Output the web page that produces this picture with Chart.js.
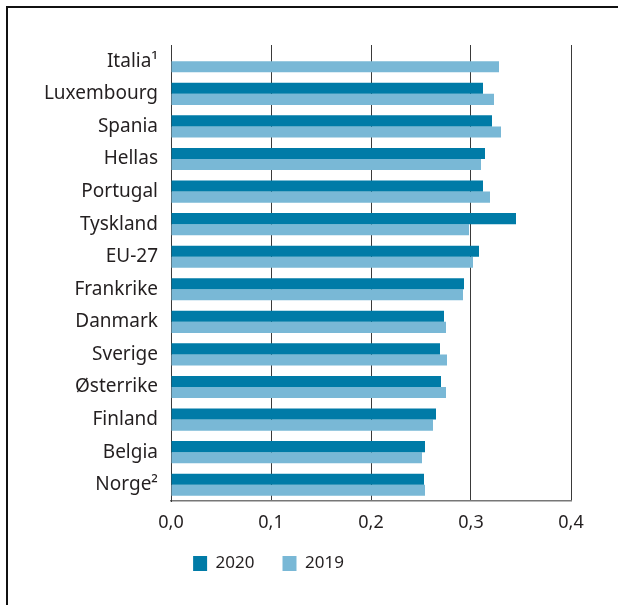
<!DOCTYPE html>
<html>
<head>
<meta charset="utf-8">
<script src="https://cdn.jsdelivr.net/npm/chart.js@4/dist/chart.umd.min.js"></script>
<style>
  html, body { margin: 0; padding: 0; background: #fff; }
  .frame { position: relative; width: 618px; height: 605px; overflow: hidden; }
  .frame-border { position: absolute; left: 6px; top: 6px; right: -4px; bottom: -4px; border-top: 2px solid #111; border-left: 2px solid #111; pointer-events: none; }
  .chart-box { position: absolute; left: 0; top: 0; width: 618px; height: 605px; }
</style>
</head>
<body>
<div class="frame">
  <div class="chart-box"><canvas id="chart"></canvas></div>
  <div class="frame-border"></div>
</div>
<script>
const countries = ['Italia¹', 'Luxembourg', 'Spania', 'Hellas', 'Portugal', 'Tyskland', 'EU-27', 'Frankrike', 'Danmark', 'Sverige', 'Østerrike', 'Finland', 'Belgia', 'Norge²'];
const values2020 = [null, 0.312, 0.321, 0.314, 0.312, 0.345, 0.308, 0.293, 0.273, 0.269, 0.270, 0.265, 0.254, 0.253];
const values2019 = [0.328, 0.323, 0.330, 0.310, 0.319, 0.298, 0.302, 0.292, 0.275, 0.276, 0.275, 0.262, 0.251, 0.254];
const xTicks = [0, 0.1, 0.2, 0.3, 0.4];

const textColor = '#231f20';
const fontFamily = '"Noto Sans", "Open Sans", sans-serif';

// move the bottom legend left and up so it sits like in the original
const legendShift = {
  id: 'legendShift',
  afterLayout(chart) {
    const legend = chart.legend;
    if (!legend) return;
    legend.left -= 17;
    legend.right -= 17;
    legend.top -= 18;
    legend.bottom -= 18;
  }
};

new Chart(document.getElementById('chart'), {
  type: 'bar',
  data: {
    labels: countries,
    datasets: [
      { label: '2020', data: values2020, backgroundColor: '#007ba7', borderWidth: 0 },
      { label: '2019', data: values2019, backgroundColor: '#79b8d6', borderWidth: 0 }
    ]
  },
  options: {
    indexAxis: 'y',
    responsive: true,
    maintainAspectRatio: false,
    animation: false,
    layout: { padding: { left: 0, right: 47, top: 45, bottom: 5 } },
    datasets: { bar: { categoryPercentage: 0.68, barPercentage: 1 } },
    plugins: {
      tooltip: { enabled: false },
      legend: {
        position: 'bottom',
        labels: {
          boxWidth: 14,
          boxHeight: 15,
          padding: 28,
          color: textColor,
          font: { family: fontFamily, size: 17 }
        }
      }
    },
    scales: {
      x: {
        min: 0,
        max: 0.4,
        afterBuildTicks: (scale) => { scale.ticks = xTicks.map((value) => ({ value })); },
        afterFit: (scale) => { scale.height = 44; },
        grid: { color: '#3a3a3a', lineWidth: 1, drawTicks: false },
        border: { display: true, color: '#777', width: 1.5 },
        ticks: {
          padding: 11,
          color: textColor,
          font: { family: fontFamily, size: 18 },
          callback: (value) => Number(value).toFixed(1).replace('.', ',')
        }
      },
      y: {
        afterFit: (scale) => { scale.width = 171; },
        grid: { display: false, drawTicks: false },
        border: { display: true, color: '#3a3a3a', width: 1 },
        ticks: {
          padding: 13,
          color: textColor,
          font: { family: fontFamily, size: 19 }
        }
      }
    }
  },
  plugins: [legendShift]
});
</script>
</body>
</html>
